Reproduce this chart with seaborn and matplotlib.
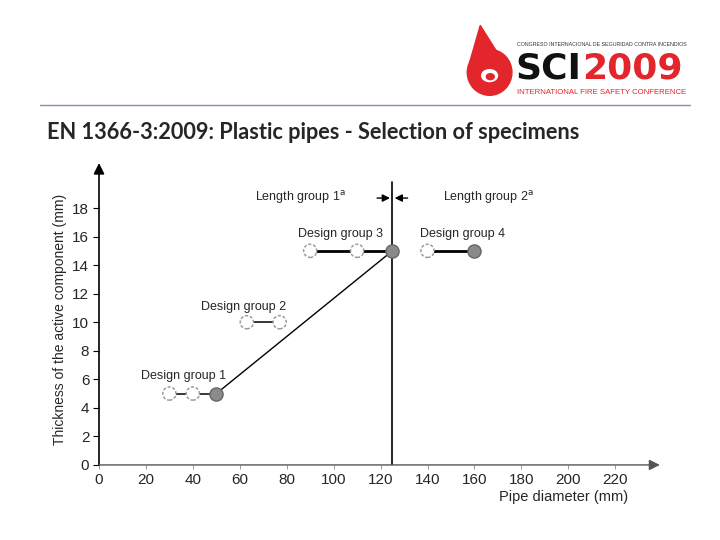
import matplotlib
matplotlib.use("Agg")
import matplotlib.pyplot as plt
import matplotlib.patches as mpatches
import pandas as pd
import seaborn as sns

# design groups: pipe diameter (mm) vs thickness of active component (mm)
group_names = ["Design group 1", "Design group 2", "Design group 3", "Design group 4"]
group_x = [[30, 40, 50], [63, 77], [90, 110, 125], [140, 160]]
group_y = [[5, 5, 5], [10, 10], [15, 15, 15], [15, 15]]
group_filled = [[False, False, True], [False, False], [False, False, True], [False, True]]
group_lw = [1.1, 1.1, 2.0, 2.0]
label_pos = [(36, 6.2), (61.5, 11.1), (103, 16.2), (155, 16.2)]

# line joining the tested (filled) specimens
trend_x = [50, 125]
trend_y = [5, 15]

length_split = 125
length_labels = ["Length group 1$^{\\mathrm{a}}$", "Length group 2$^{\\mathrm{a}}$"]
length_label_x = [86, 166]

xticks = list(range(0, 221, 20))
yticks = list(range(0, 19, 2))

rows = []
for name, xs, ys, fl in zip(group_names, group_x, group_y, group_filled):
    for x, y, f in zip(xs, ys, fl):
        rows.append({"group": name, "diameter": x, "thickness": y, "filled": f})
df = pd.DataFrame(rows)

sns.set_style("white")
plt.rcParams["font.family"] = ["Liberation Sans", "DejaVu Sans"]

fig = plt.figure(figsize=(7.2, 5.4), dpi=100)
ax = fig.add_axes([0.1375, 0.139, 0.779, 0.559])
ax.set_xlim(0, 239)
ax.set_ylim(0, 21.15)

# trend line
sns.lineplot(x=trend_x, y=trend_y, ax=ax, color="black", lw=1.0, zorder=2)

# group segments
for name, lw in zip(group_names, group_lw):
    sub = df[df["group"] == name]
    sns.lineplot(data=sub, x="diameter", y="thickness", ax=ax, color="black",
                 lw=lw, estimator=None, sort=False, zorder=2)

open_pts = df[~df["filled"]]
full_pts = df[df["filled"]]
sns.scatterplot(data=open_pts, x="diameter", y="thickness", ax=ax, s=90,
                facecolor="white", edgecolor="#9c9c9c", linewidth=1.1,
                linestyle=(0, (2, 1.2)), zorder=3)
sns.scatterplot(data=full_pts, x="diameter", y="thickness", ax=ax, s=90,
                facecolor="#8a8a8a", edgecolor="#666666", linewidth=1.0, zorder=3)

for name, (lx, ly) in zip(group_names, label_pos):
    ax.text(lx, ly, name, ha="center", va="center", fontsize=9)

# length group divider
ax.plot([length_split, length_split], [0, 19.8], color="black", lw=1.2, zorder=1)
for lab, lx in zip(length_labels, length_label_x):
    ax.text(lx, 18.75, lab, ha="center", va="center", fontsize=9)
ax.annotate("", xy=(length_split - 1.0, 18.7), xytext=(length_split - 6.5, 18.7),
            arrowprops=dict(arrowstyle="-|>", color="black", lw=1.0, mutation_scale=11,
                            shrinkA=0, shrinkB=0))
ax.annotate("", xy=(length_split + 1.0, 18.7), xytext=(length_split + 6.5, 18.7),
            arrowprops=dict(arrowstyle="-|>", color="black", lw=1.0, mutation_scale=11,
                            shrinkA=0, shrinkB=0))

# axes with arrow heads
sns.despine(ax=ax, left=True, bottom=True)
ax.annotate("", xy=(0, 21.15), xytext=(0, 0),
            arrowprops=dict(arrowstyle="-|>", color="black", lw=1.2, mutation_scale=16,
                            shrinkA=0, shrinkB=0))
ax.annotate("", xy=(239, 0), xytext=(0, 0),
            arrowprops=dict(arrowstyle="-|>", color="#555555", lw=1.0, mutation_scale=16,
                            shrinkA=0, shrinkB=0))

ax.set_xticks(xticks)
ax.set_yticks(yticks)
ax.tick_params(axis="x", length=3, width=0.6, color="#888888", labelsize=11, pad=3,
               bottom=True)
ax.tick_params(axis="y", length=4, width=0.8, color="black", labelsize=11, pad=3, left=True)
ax.set_xlabel("")
ax.set_ylabel("")
ax.grid(False)
ax.patch.set_alpha(0)

fig.text(0.083, 0.408, "Thickness of the active component (mm)", rotation=90,
         ha="center", va="center", fontsize=10)
fig.text(0.873, 0.079, "Pipe diameter (mm)", ha="right", va="center", fontsize=10.5)

# slide header
fig.text(0.065, 0.754, "EN 1366-3:2009: Plastic pipes - Selection of specimens",
         fontsize=15.7, fontweight="bold", family=["Lato", "DejaVu Sans"],
         ha="left", va="center")
fig.add_artist(plt.Line2D([0.055, 0.958], [0.806, 0.806], color="#7d93a6", lw=1.0))

# logo
red = "#e3262b"
fig.add_artist(mpatches.Ellipse((0.680, 0.866), 0.062, 0.085, color=red))
fig.add_artist(mpatches.Polygon([[0.652, 0.883], [0.667, 0.953], [0.693, 0.898]],
                                closed=True, color=red))
fig.add_artist(mpatches.Circle((0.680, 0.860), 0.011, color="white"))
fig.add_artist(mpatches.Circle((0.681, 0.858), 0.0055, color=red))
fig.text(0.808, 0.854, "SCI", fontsize=26, fontweight="bold", color="#111111",
         family="DejaVu Sans", ha="right", va="baseline")
fig.text(0.808, 0.854, "2009", fontsize=26, fontweight="bold", color=red,
         family="DejaVu Sans", ha="left", va="baseline")
fig.text(0.718, 0.917, "CONGRESO INTERNACIONAL DE SEGURIDAD CONTRA INCENDIOS",
         fontsize=3.8, color="#333333", ha="left", va="center")
fig.text(0.718, 0.829, "INTERNATIONAL FIRE SAFETY CONFERENCE", fontsize=5.6,
         color=red, ha="left", va="center")

fig.savefig("out.png", dpi=100)
